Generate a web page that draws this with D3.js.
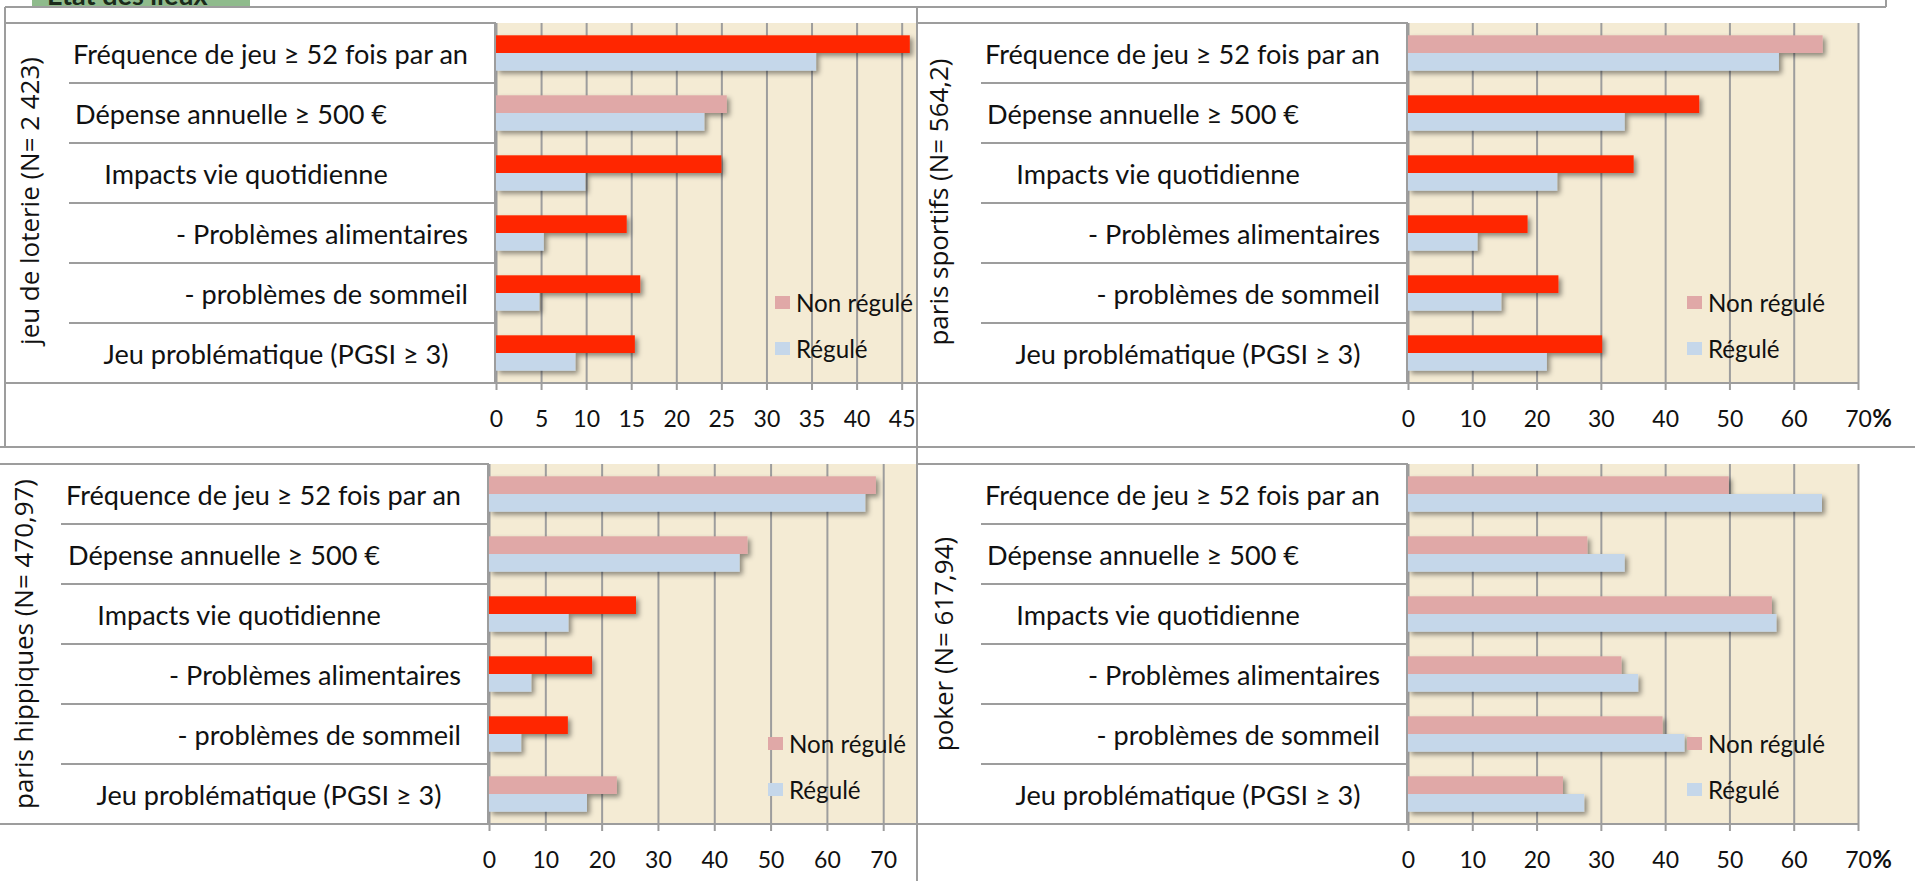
<!DOCTYPE html>
<html>
<head>
<meta charset="utf-8">
<script src="https://cdn.jsdelivr.net/npm/d3@7"></script>
<style>
  body { margin: 0; background: #fff; }
  svg { display: block; }
</style>
</head>
<body>
<script>
'use strict';

// --- data ---------------------------------------------------------------
const categories = [
  'Fréquence de jeu ≥ 52 fois par an',
  'Dépense annuelle ≥ 500 €',
  'Impacts vie quotidienne',
  '- Problèmes alimentaires',
  '- problèmes de sommeil',
  'Jeu problématique (PGSI ≥ 3)'
];
const seriesNames = ['Non régulé', 'Régulé'];
const titles = [
  'jeu de loterie (N= 2 423)',
  'paris sportifs (N= 564,2)',
  'paris hippiques (N= 470,97)',
  'poker (N= 617,94)'
];

const loterieNonRegule  = [45.9, 25.6, 25.0, 14.5, 16.0, 15.4];
const loterieRegule     = [35.5, 23.1,  9.9,  5.3,  4.8,  8.8];
const loterieEcart      = [true, false, true, true, true, true];

const sportifsNonRegule = [64.5, 45.3, 35.1, 18.6, 23.4, 30.2];
const sportifsRegule    = [57.7, 33.7, 23.2, 10.8, 14.5, 21.6];
const sportifsEcart     = [false, true, true, true, true, true];

const hippiquesNonRegule = [68.7, 45.9, 26.1, 18.3, 14.0, 22.7];
const hippiquesRegule    = [66.8, 44.5, 14.1,  7.5,  5.7, 17.4];
const hippiquesEcart     = [false, false, true, true, true, false];

const pokerNonRegule = [49.9, 27.9, 56.6, 33.2, 39.6, 24.1];
const pokerRegule    = [64.4, 33.7, 57.3, 35.8, 43.0, 27.4];
const pokerEcart     = [false, false, false, false, false, false];

const ticksLoterie = [0, 5, 10, 15, 20, 25, 30, 35, 40, 45];
const ticksPct     = [0, 10, 20, 30, 40, 50, 60, 70];
const axisMax      = [46.7, 70, 76, 70];

// --- layout -------------------------------------------------------------
const W = 1915;
const H = 881;

const panels = [
  { x0: 496, x1: 917,  y0: 23,  y1: 383, sepX: 69,  topX: 5,   tx: 29,  ty: 201, pct: false,
    nonReg: loterieNonRegule,   reg: loterieRegule,   sig: loterieEcart,   ticks: ticksLoterie },
  { x0: 1408, x1: 1858, y0: 23,  y1: 383, sepX: 981, topX: 917, tx: 938, ty: 202, pct: true,
    nonReg: sportifsNonRegule,  reg: sportifsRegule,  sig: sportifsEcart,  ticks: ticksPct },
  { x0: 489, x1: 917,  y0: 464, y1: 824, sepX: 61,  topX: 0,   tx: 23,  ty: 644, pct: false,
    nonReg: hippiquesNonRegule, reg: hippiquesRegule, sig: hippiquesEcart, ticks: ticksPct },
  { x0: 1408, x1: 1858, y0: 464, y1: 824, sepX: 981, topX: 917, tx: 943, ty: 644, pct: true,
    nonReg: pokerNonRegule,     reg: pokerRegule,     sig: pokerEcart,     ticks: ticksPct }
];

// label anchor relative to the plot's left edge
const labelAnchors = [['end', -28], ['start', -421], ['middle', -250],
                      ['end', -28], ['end', -28], ['middle', -220]];

const colors = {
  red:   '#ff2800',
  pink:  '#e0a8a7',
  blue:  '#c5d7ea',
  beige: '#f4ebd4',
  line:  '#9d9d9d',
  text:  '#111111'
};

const labelFont = 'Lato, "Open Sans", sans-serif';
const titleFont = '"Open Sans", "DejaVu Sans", sans-serif';

const svg = d3.select('body')
  .append('svg')
  .attr('width', W)
  .attr('height', H)
  .attr('viewBox', `0 0 ${W} ${H}`);

const defs = svg.append('defs');
defs.append('filter')
    .attr('id', 'shadow')
    .attr('x', '-5%').attr('y', '-40%')
    .attr('width', '115%').attr('height', '200%')
  .append('feDropShadow')
    .attr('dx', 3).attr('dy', 3)
    .attr('stdDeviation', 2.5)
    .attr('flood-color', '#000')
    .attr('flood-opacity', 0.42);

defs.append('clipPath').attr('id', 'tabClip')
  .append('rect').attr('x', 32).attr('y', 0).attr('width', 218).attr('height', 6);

// font sizes fitted to the widths measured on the reference
function fitSize(text, family, base, target, weight) {
  const probe = svg.append('text')
    .attr('font-family', family)
    .attr('font-weight', weight || 'normal')
    .attr('font-size', base)
    .text(text);
  const size = base * target / probe.node().getComputedTextLength();
  probe.remove();
  return size;
}
const labelSize  = fitSize(categories[0], labelFont, 24, 395);
const legendSize = fitSize(seriesNames[0], labelFont, 24, 117);
const titleSize  = fitSize(titles[0], titleFont, 22, 288);

// --- green tab at the top (cut off) ------------------------------------
const tab = svg.append('g').attr('clip-path', 'url(#tabClip)');
tab.append('rect')
   .attr('x', 32).attr('y', 0).attr('width', 218).attr('height', 6)
   .attr('fill', '#8fbb8c');
tab.append('text')
   .attr('x', 47).attr('y', 5)
   .attr('font-family', labelFont)
   .attr('font-weight', 'bold')
   .attr('font-size', 27)
   .attr('fill', '#1a2a1a')
   .text('État des lieux');

// --- panels --------------------------------------------------------------
function drawPanel(p, i) {
  const g = svg.append('g');
  const h = p.y1 - p.y0;

  const x = d3.scaleLinear().domain([0, axisMax[i]]).range([p.x0, p.x1]);
  const y = d3.scaleBand().domain(categories).range([p.y0, p.y1]);
  const groupH = y.bandwidth() * 0.59;
  const inner = d3.scaleBand().domain(seriesNames).range([0, groupH]);

  g.append('rect')
   .attr('x', p.x0).attr('y', p.y0)
   .attr('width', p.x1 - p.x0).attr('height', h)
   .attr('fill', colors.beige);

  const axis = d3.axisBottom(x)
    .tickValues(p.ticks)
    .tickSize(7)
    .tickFormat(d => d);

  const ag = g.append('g')
    .attr('transform', `translate(0,${p.y1})`)
    .call(axis);
  ag.select('.domain').remove();
  ag.selectAll('.tick line')
    .attr('y1', -h).attr('y2', 7)
    .attr('stroke', colors.line)
    .attr('stroke-width', 2);
  ag.selectAll('.tick text')
    .attr('y', 44).attr('dy', null)
    .attr('font-family', labelFont)
    .attr('font-size', 23)
    .attr('fill', colors.text);

  if (p.pct) {
    const last = ag.selectAll('.tick text').filter(d => d === p.ticks[p.ticks.length - 1]);
    const half = last.node().getComputedTextLength() / 2;
    g.append('text')
     .attr('x', x(p.ticks[p.ticks.length - 1]) + half + 1)
     .attr('y', p.y1 + 44)
     .attr('font-family', labelFont)
     .attr('font-weight', 'bold')
     .attr('font-size', 24)
     .attr('fill', colors.text)
     .text('%');
  }

  const rows = categories.map((c, k) => ({
    cat: c, nonReg: p.nonReg[k], reg: p.reg[k], sig: p.sig[k]
  }));

  const bars = g.append('g').attr('filter', 'url(#shadow)');
  rows.forEach(r => {
    const top = y(r.cat) + (y.bandwidth() - groupH) / 2;
    bars.append('rect')
        .attr('x', x(0)).attr('y', top + inner(seriesNames[0]))
        .attr('width', x(r.nonReg) - x(0)).attr('height', inner.bandwidth())
        .attr('fill', r.sig ? colors.red : colors.pink);
    bars.append('rect')
        .attr('x', x(0)).attr('y', top + inner(seriesNames[1]))
        .attr('width', x(r.reg) - x(0)).attr('height', inner.bandwidth())
        .attr('fill', colors.blue);
  });

  // label column box
  const frame = g.append('g')
    .attr('stroke', colors.line)
    .attr('stroke-width', 2)
    .attr('fill', 'none');
  frame.append('line')
    .attr('x1', p.topX).attr('x2', p.x0)
    .attr('y1', p.y0).attr('y2', p.y0);
  categories.slice(1).forEach(c => {
    frame.append('line')
      .attr('x1', p.sepX).attr('x2', p.x0 - 1)
      .attr('y1', y(c)).attr('y2', y(c));
  });
  frame.append('line')
    .attr('x1', p.x0 - 1).attr('x2', p.x0 - 1)
    .attr('y1', p.y0).attr('y2', p.y1);

  g.selectAll('.cat')
    .data(categories)
    .join('text')
    .attr('class', 'cat')
    .attr('x', (d, k) => p.x0 + labelAnchors[k][1])
    .attr('y', d => y(d) + y.bandwidth() / 2 + 11)
    .attr('text-anchor', (d, k) => labelAnchors[k][0])
    .attr('font-family', labelFont)
    .attr('font-size', labelSize)
    .attr('fill', colors.text)
    .text(d => d);

  // legend
  const lx = p.x0 + 279;
  const legendTops = [p.y1 - 87, p.y1 - 41];
  const legendFill = [colors.pink, colors.blue];
  seriesNames.forEach((s, k) => {
    g.append('rect')
     .attr('x', lx).attr('y', legendTops[k])
     .attr('width', 15).attr('height', 13)
     .attr('fill', legendFill[k]);
    g.append('text')
     .attr('x', lx + 21).attr('y', legendTops[k] + 16)
     .attr('font-family', labelFont)
     .attr('font-size', legendSize)
     .attr('fill', colors.text)
     .text(s);
  });

  // rotated title
  g.append('text')
   .attr('transform', `translate(${p.tx},${p.ty}) rotate(-90)`)
   .attr('text-anchor', 'middle')
   .attr('dominant-baseline', 'central')
   .attr('font-family', titleFont)
   .attr('font-size', titleSize)
   .attr('fill', colors.text)
   .text(titles[i]);
}

panels.forEach(drawPanel);

// --- outer frame lines --------------------------------------------------
const frameLines = [
  [5, 7, 1886, 7], [1886, 0, 1886, 7], [5, 7, 5, 447], [917, 7, 917, H],
  [5, 383, 1858, 383], [0, 447, W, 447], [0, 824, 1858, 824]
];
svg.append('g')
  .attr('stroke', colors.line)
  .attr('stroke-width', 2)
  .selectAll('line')
  .data(frameLines)
  .join('line')
  .attr('x1', d => d[0]).attr('y1', d => d[1])
  .attr('x2', d => d[2]).attr('y2', d => d[3]);
</script>
</body>
</html>
